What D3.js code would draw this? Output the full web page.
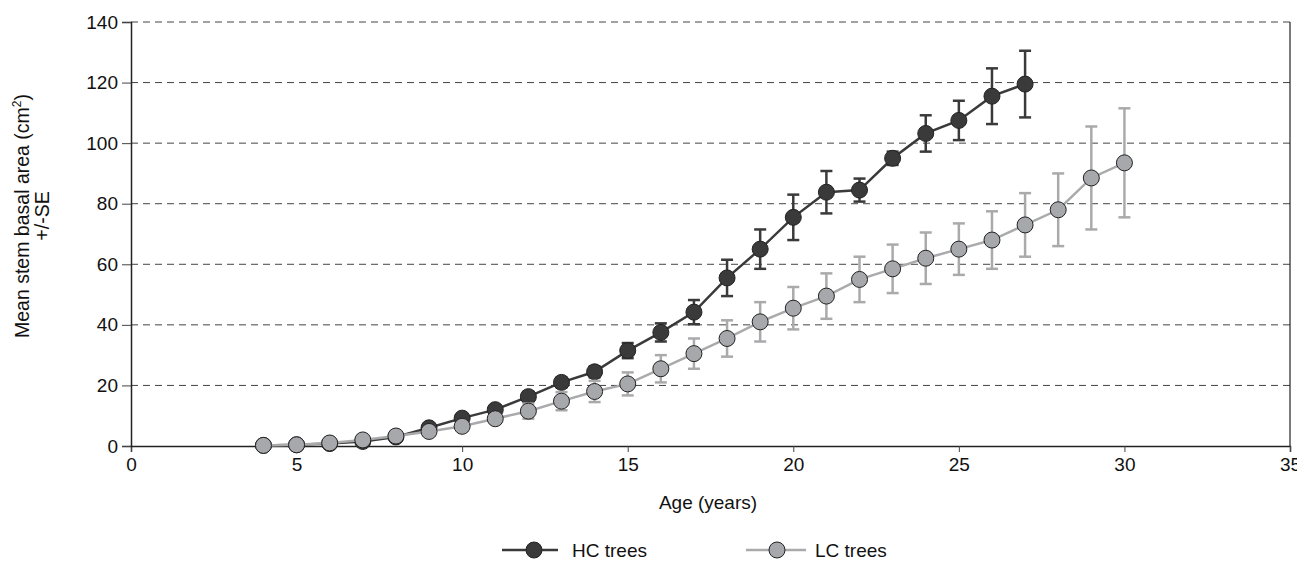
<!DOCTYPE html>
<html>
<head>
<meta charset="utf-8">
<script src="https://cdn.jsdelivr.net/npm/d3@7"></script>
<style>
  body { margin: 0; background: #fff; }
  text { font-family: "Liberation Sans", Arial, sans-serif; }
</style>
</head>
<body>
<div id="chart"></div>
<script>
// ages
const hcAge = [4,5,6,7,8,9,10,11,12,13,14,15,16,17,18,19,20,21,22,23,24,25,26,27];
const hcMean = [0.2,0.4,0.8,1.5,3,6,9.2,12,16.3,21,24.5,31.5,37.5,44.2,55.5,65,75.5,83.8,84.5,95,103.2,107.5,115.5,119.5];
const hcSE = [0,0,0,0,0.3,0.8,1.2,1.3,1.6,1.6,1.8,2.5,3,4,6,6.5,7.5,7,3.8,2.2,6,6.5,9.2,11];

const lcAge = [4,5,6,7,8,9,10,11,12,13,14,15,16,17,18,19,20,21,22,23,24,25,26,27,28,29,30];
const lcMean = [0.2,0.4,1,2,3.3,4.8,6.5,9,11.5,14.8,18,20.5,25.5,30.5,35.5,41,45.5,49.5,55,58.5,62,65,68,73,78,88.5,93.5];
const lcSE = [0,0,0,0,0.3,0.6,1,1.5,2.5,3,3.5,3.8,4.5,5,6,6.5,7,7.5,7.5,8,8.5,8.5,9.5,10.5,12,17,18];

const xTicks = [0,5,10,15,20,25,30,35];
const yTicks = [0,20,40,60,80,100,120,140];

const W = 1297, H = 561;
const margin = { top: 22, right: 7, bottom: 115, left: 131 };
const width = W - margin.left - margin.right,
      height = H - margin.top - margin.bottom;

const svg = d3.select("#chart").append("svg")
  .attr("width", W).attr("height", H);
const g = svg.append("g").attr("transform", `translate(${margin.left},${margin.top})`);

const x = d3.scaleLinear().domain([0, 35]).range([0, width]);
const y = d3.scaleLinear().domain([0, 140]).range([height, 0]);

// gridlines
g.selectAll(".grid").data(yTicks.slice(1)).join("line")
  .attr("x1", 0).attr("x2", width)
  .attr("y1", d => y(d)).attr("y2", d => y(d))
  .attr("stroke", "#444").attr("stroke-width", 1)
  .attr("stroke-dasharray", "7,5");

// right border
g.append("line").attr("x1", width).attr("x2", width).attr("y1", 0).attr("y2", height)
  .attr("stroke", "#222").attr("stroke-width", 1.2);

// axes
const xAxis = g.append("g").attr("transform", `translate(0,${height})`)
  .call(d3.axisBottom(x).tickValues(xTicks).tickSizeOuter(0).tickSize(6).tickPadding(6));
const yAxis = g.append("g")
  .call(d3.axisLeft(y).tickValues(yTicks).tickSizeOuter(0).tickSize(9).tickPadding(4));
[xAxis, yAxis].forEach(a => {
  a.select(".domain").attr("stroke", "#222").attr("stroke-width", 1.5);
  a.selectAll(".tick line").attr("stroke", "#444");
  a.selectAll("text").attr("font-size", 19).attr("fill", "#111")
    .attr("font-family", "Liberation Sans, Arial, sans-serif");
});

// series
function drawSeries(ages, means, ses, lineColor, fill, errColor) {
  const pts = ages.map((a, i) => ({ a, m: means[i], s: ses[i] }));
  const line = d3.line().x(d => x(d.a)).y(d => y(d.m));
  g.append("path").datum(pts).attr("d", line)
    .attr("fill", "none").attr("stroke", lineColor).attr("stroke-width", 2.5);
  const eb = g.append("g").selectAll("g").data(pts.filter(d => d.s > 0)).join("g")
    .attr("stroke", errColor).attr("stroke-width", 2.5);
  eb.append("line").attr("x1", d => x(d.a)).attr("x2", d => x(d.a))
    .attr("y1", d => y(d.m + d.s)).attr("y2", d => y(d.m - d.s));
  eb.append("line").attr("x1", d => x(d.a) - 6).attr("x2", d => x(d.a) + 6)
    .attr("y1", d => y(d.m + d.s)).attr("y2", d => y(d.m + d.s));
  eb.append("line").attr("x1", d => x(d.a) - 6).attr("x2", d => x(d.a) + 6)
    .attr("y1", d => y(d.m - d.s)).attr("y2", d => y(d.m - d.s));
  g.append("g").selectAll("circle").data(pts).join("circle")
    .attr("cx", d => x(d.a)).attr("cy", d => y(d.m)).attr("r", 8)
    .attr("fill", fill).attr("stroke", "#222").attr("stroke-width", 1);
}
drawSeries(hcAge, hcMean, hcSE, "#3a3a3a", "#3a3a3a", "#3a3a3a");
drawSeries(lcAge, lcMean, lcSE, "#aaaaac", "#a7a8ab", "#aaaaac");

// axis titles
svg.append("text").attr("x", 708).attr("y", 509).attr("text-anchor", "middle")
  .attr("font-size", 19).attr("fill", "#111").text("Age (years)");

const yl = svg.append("g").attr("transform", "translate(29,216) rotate(-90)");
const t1 = yl.append("text").attr("text-anchor", "middle").attr("font-size", 19.5).attr("fill", "#111");
t1.append("tspan").text("Mean stem basal area (cm");
t1.append("tspan").attr("font-size", 12).attr("dy", -8).text("2");
t1.append("tspan").attr("dy", 8).text(")");
yl.append("text").attr("y", 20).attr("text-anchor", "middle").attr("font-size", 19.5)
  .attr("fill", "#111").text("+/-SE");

// legend
const legend = [
  { name: "HC trees", x0: 502, x1: 558, cx: 534, tx: 572, color: "#3a3a3a", fill: "#3a3a3a" },
  { name: "LC trees", x0: 746, x1: 806, cx: 777, tx: 815, color: "#aaaaac", fill: "#a7a8ab" }
];
const ly = 550;
const lg = svg.append("g").selectAll("g").data(legend).join("g");
lg.append("line").attr("x1", d => d.x0).attr("x2", d => d.x1).attr("y1", ly).attr("y2", ly)
  .attr("stroke", d => d.color).attr("stroke-width", 2.5);
lg.append("circle").attr("cx", d => d.cx).attr("cy", ly).attr("r", 8)
  .attr("fill", d => d.fill).attr("stroke", "#222").attr("stroke-width", 1);
lg.append("text").attr("x", d => d.tx).attr("y", ly + 7).attr("font-size", 19)
  .attr("fill", "#111").text(d => d.name);
</script>
</body>
</html>
